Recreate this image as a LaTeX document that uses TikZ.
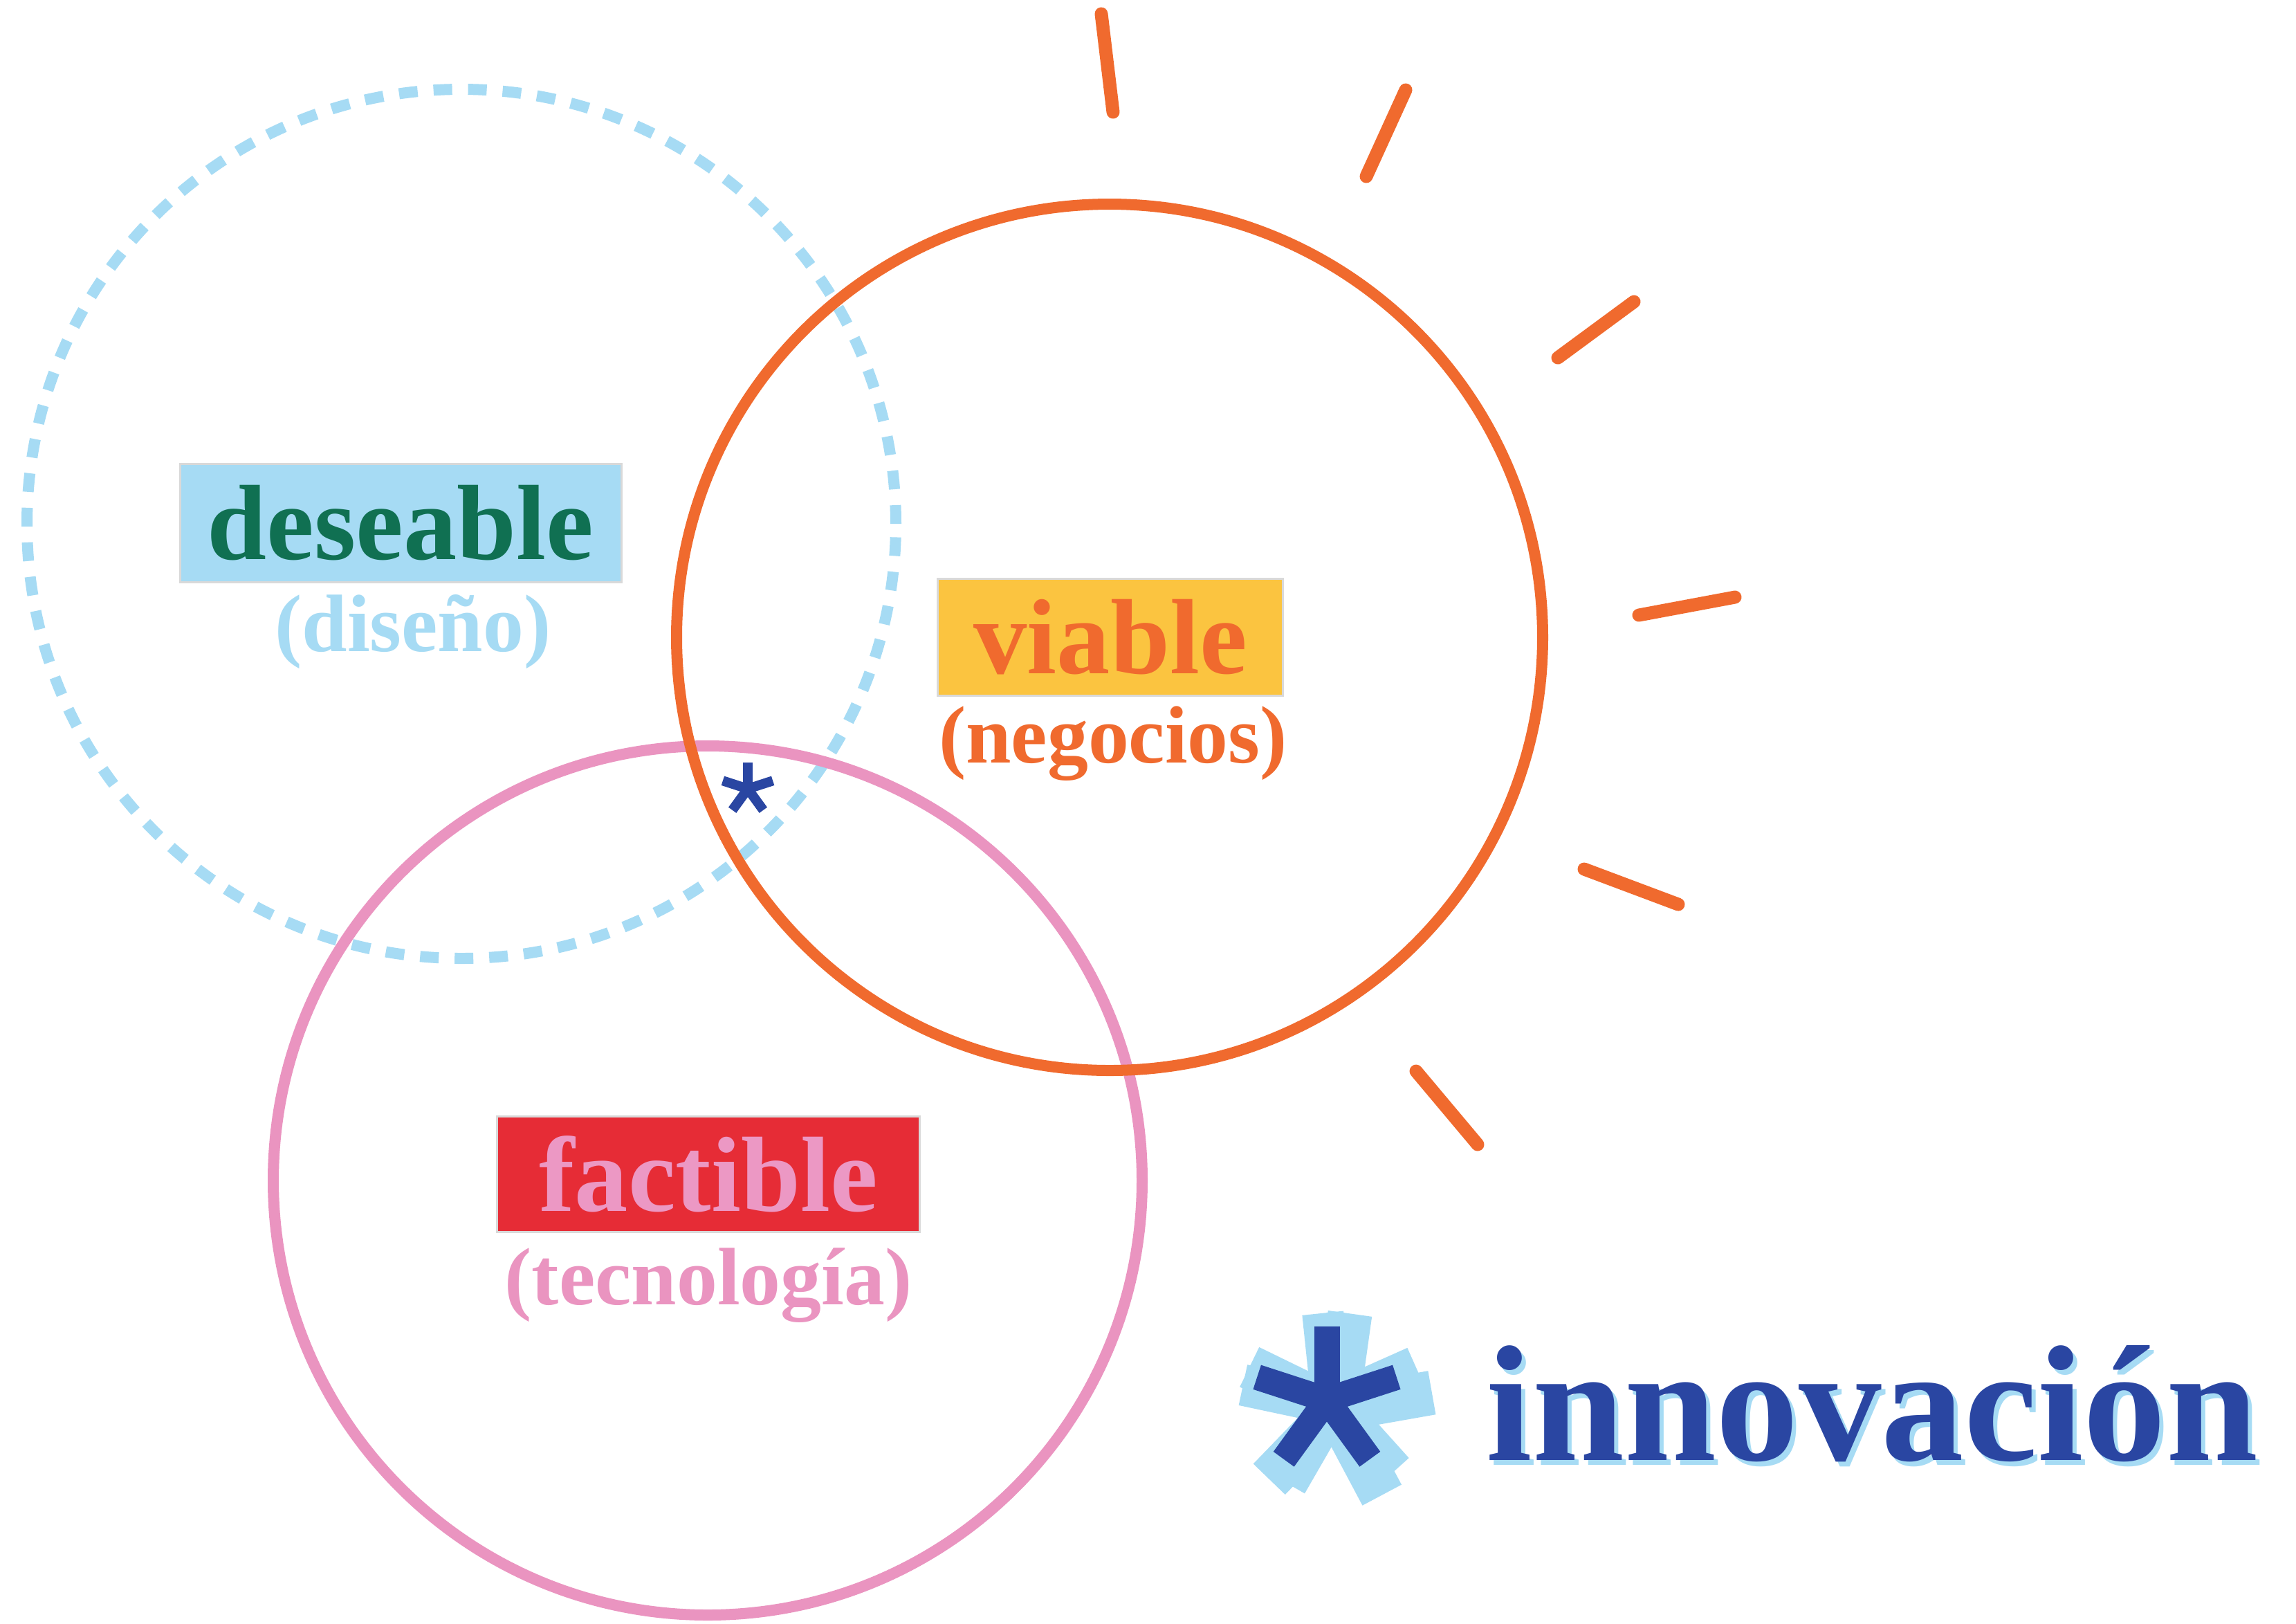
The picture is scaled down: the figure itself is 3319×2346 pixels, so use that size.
\documentclass[tikz,border=0pt]{standalone}
\usepackage{fontspec}
\setmainfont{Liberation Serif}
\definecolor{skyblue}{RGB}{166,219,244}
\definecolor{deepgreen}{RGB}{16,112,82}
\definecolor{sunyellow}{RGB}{251,196,64}
\definecolor{sunorange}{RGB}{240,106,46}
\definecolor{brickred}{RGB}{230,44,54}
\definecolor{softpink}{RGB}{236,152,196}
\definecolor{rosepink}{RGB}{234,148,192}
\definecolor{navyblue}{RGB}{42,70,162}

\begin{document}
\begin{tikzpicture}[x=0.1mm, y=-0.1mm,
		labelbox/.style={rectangle, inner sep=0pt, draw=black!15, line width=0.3mm, font=\fontsize{44}{44}\selectfont\bfseries},
		subtext/.style={inner sep=0pt, font=\fontsize{33.5}{34}\selectfont\bfseries},
		ray/.style={sunorange, line width=1.9mm, line cap=round}]
		\path[use as bounding box, fill=white] (0,0) rectangle (3319,2346);

		\draw[skyblue, line width=1.6mm, dash pattern=on 2.7mm off 2.3mm] (667,757) circle (6.28cm);
		\draw[rosepink, line width=1.6mm] (1023,1706) circle (6.28cm);
		\draw[sunorange, line width=1.6mm] (1604,921) circle (6.26cm);

		\foreach \xa/\ya/\xb/\yb in {1592/20/1609/162, 2032/130/1975/255, 2362/436/2252/517,
			2508/863/2369/889, 2290/1256/2426/1307, 2047/1548/2136/1654}
			\draw[ray] (\xa,\ya) -- (\xb,\yb);

		\node[labelbox, fill=skyblue, text=deepgreen, minimum width=6.38cm, minimum height=1.71cm] (des) at (579,756) {deseable};
		\node[subtext, text=skyblue] (dis) at (597,913) {(diseño)};
		\node[labelbox, fill=sunyellow, text=sunorange, minimum width=4.99cm, minimum height=1.69cm] (via) at (1605,921) {viable};
		\node[subtext, text=sunorange] (neg) at (1609,1075) {(negocios)};
		\node[labelbox, fill=brickred, text=softpink, minimum width=6.11cm, minimum height=1.67cm] (fac) at (1024,1697) {factible};
		\node[subtext, text=rosepink] (tec) at (1024,1858) {(tecnología)};

		\coordinate (star) at (1081,1140);
		\foreach \ang in {270,342,54,126,198}
			\draw[navyblue, line width=1.4mm] (star) -- ++(\ang:38);

		\coordinate (big) at (1918,2023);
		\foreach \ang in {270,342,54,126,198} {
			\draw[skyblue, line width=6.4mm] (big) ++(14,14) -- ++(\ang+8:140);
			\draw[skyblue, line width=6mm] (big) ++(8,6) -- ++(\ang-6:132);
		}
		\foreach \ang in {270,342,54,126,198}
			\draw[navyblue, line width=3.7mm] (big) -- ++(\ang:106);

		\node[inner sep=0pt, anchor=base west, text=navyblue, font=\fontsize{68}{68}\selectfont\bfseries] (inno) at (2148,2110)
			{\makebox[0pt][l]{\kern0.6mm\raisebox{-0.7mm}{\color{skyblue}innovación}}innovación};
	\end{tikzpicture}
\end{document}
